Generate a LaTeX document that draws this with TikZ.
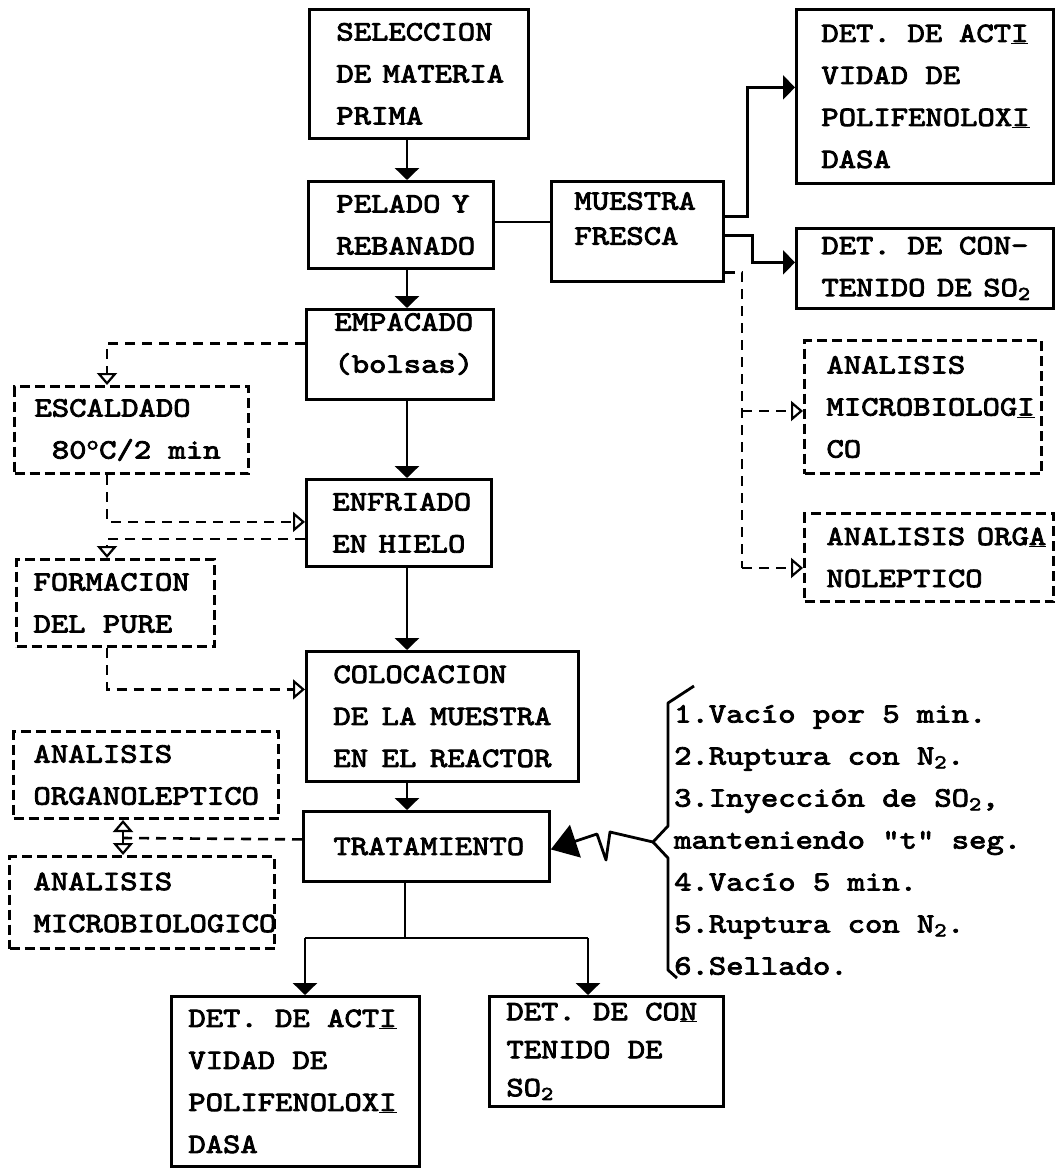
\documentclass[tikz,border=0pt]{standalone}
\usepackage{fontspec}
\newfontfamily\twfont{lmmono10-regular.otf}[FakeStretch=1.18, FakeBold=3]
\usetikzlibrary{arrows.meta}
\newcommand\tyfont{\fontsize{28}{42}\selectfont\twfont}
\newcommand\fixspace{\spaceskip=0pt\xspaceskip=0pt\hyphenpenalty=10000\exhyphenpenalty=10000\hyphenchar\font=-1\relax}
\begin{document}
\begin{tikzpicture}[x=1pt,y=-1pt,
  box/.style={draw, line width=2.8pt, rectangle, anchor=north west, inner xsep=24pt, inner ysep=0pt,
    align=left, font=\tyfont, execute at begin node=\fixspace},
  dbox/.style={box, line width=3pt, dash pattern=on 10pt off 5pt},
  conn/.style={line width=2.8pt},
  flow/.style={conn, -{Triangle[width=24pt,length=12pt]}},
  dconn/.style={line width=2.6pt, dash pattern=on 10pt off 7pt},
  dflow/.style={dconn, -{Triangle[open,width=20pt,length=12pt,line width=2.2pt]}},
  txt/.style={font=\tyfont, align=left, inner sep=0pt}
]
\fill[white] (0,0) rectangle (1063,1168);
\useasboundingbox (0,0) rectangle (1063,1168);

% main column
\node[box, inner xsep=27pt, text width=165pt, minimum height=129pt] (sel) at (308,8) {SELECCION\\DE~MATERIA\\PRIMA};
\node[box, inner xsep=28pt, text width=129pt, minimum height=87pt] (pel) at (307,180) {PELADO~Y\\REBANADO};
\node[box, inner xsep=28pt, text width=131pt, minimum height=90pt, text depth=65pt] (emp) at (305,308) {EMPACADO\\(bolsas)};
\node[box, inner xsep=26pt, text width=133pt, minimum height=87pt] (enf) at (305,478) {ENFRIADO\\EN~HIELO};
\node[box, inner xsep=27pt, text width=218pt, minimum height=130pt] (col) at (305,650) {COLOCACION\\DE~LA~MUESTRA\\EN~EL~REACTOR};
\node[box, inner xsep=30pt, text width=186pt, minimum height=70pt] (trat) at (302,810) {TRATAMIENTO};

% fresh sample branch
\node[box, inner xsep=23pt, text width=126pt, minimum height=100pt, text depth=61pt, font=\fontsize{28}{35}\selectfont\twfont] (mue) at (550,180) {MUESTRA\\FRESCA};
\node[box, inner xsep=25pt, text width=207pt, minimum height=174pt] (acti1) at (795,8) {DET.~DE~ACT\underline{I}\\VIDAD~DE\\POLIFENOLOX\underline{I}\\DASA};
\node[box, inner xsep=25pt, text width=207pt, minimum height=80pt] (con1) at (795,227) {DET.~DE~CON-\\TENIDO~DE~SO\textsubscript{2}};
\node[dbox, inner xsep=22pt, text width=193pt, minimum height=133pt] (mic1) at (803,339) {ANALISIS\\MICROBIOLOG\underline{I}\\CO};
\node[dbox, inner xsep=22pt, text width=205pt, minimum height=88pt] (org1) at (803,512) {ANALISIS~ORG\underline{A}\\NOLEPTICO};

% left dashed column
\node[dbox, inner xsep=20pt, text width=194pt, minimum height=87pt] (esc) at (13,385) {ESCALDADO\\~80\textsuperscript{o}C/2~min};
\node[dbox, inner xsep=17pt, text width=164pt, minimum height=87pt] (form) at (15,558) {FORMACION\\DEL~PURE};
\node[dbox, inner xsep=20pt, text width=225pt, minimum height=87pt] (orgL) at (12,730) {ANALISIS\\ORGANOLEPTICO};
\node[dbox, inner xsep=24pt, text width=217pt, minimum height=92pt] (micL) at (8,855) {ANALISIS\\MICROBIOLOGICO};

% bottom
\node[box, inner xsep=17pt, text width=214pt, minimum height=170pt] (acti2) at (170,995) {DET.~DE~ACT\underline{I}\\VIDAD~DE\\POLIFENOLOX\underline{I}\\DASA};
\node[box, inner xsep=17pt, text width=200pt, minimum height=110pt, font=\fontsize{28}{38}\selectfont\twfont] (con2) at (488,995) {DET.~DE~CO\underline{N}\\TENIDO~DE\\SO\textsubscript{2}};

% list of steps
\node[txt, anchor=west] (lst) at (674,840) {1.Vacío~por~5~min.\\2.Ruptura~con~N\textsubscript{2}.\\3.Inyección~de~SO\textsubscript{2},\\manteniendo~"t"~seg.\\4.Vacío~5~min.\\5.Ruptura~con~N\textsubscript{2}.\\6.Sellado.};

% helper coordinates
\coordinate (cx) at (407,0);
\coordinate (lx) at (107,0);
\coordinate (rm) at (742,411);
\coordinate (rb) at (742,568);
\coordinate (tl) at (123,838);
\coordinate (bj) at (405,938);
\coordinate (bl) at (305,938);
\coordinate (br) at (588,938);

% main flow
\draw[flow] (sel.south -| cx) -- (pel.north -| cx);
\draw[flow] (pel.south -| cx) -- (emp.north -| cx);
\draw[flow] (emp.south -| cx) -- (enf.north -| cx);
\draw[flow] (enf.south -| cx) -- (col.north -| cx);
\draw[flow] (col.south -| cx) -- (trat.north -| cx);

% to fresh sample
\draw[conn] ([yshift=3pt]pel.east) -- ([yshift=3pt]pel.east -| mue.west);
\draw[flow] ([yshift=15pt]mue.east) -- ++(23,0) |- ([yshift=9pt]acti1.west);
\draw[flow] ([yshift=-4pt]mue.east) -- ++(28,0) |- ([yshift=6pt]con1.west);
\draw[dconn] ([yshift=-41pt]mue.east) -| (rb);
\draw[dflow] (rm) -- (rm -| mic1.west);
\draw[dflow] (rb) -- (rb -| org1.west);

% left dashed flow
\draw[dflow] ([yshift=11pt]emp.west) -| (esc.north -| lx);
\draw[dflow] (esc.south -| lx) |- ([yshift=1pt]enf.west);
\draw[dflow] ([yshift=-16pt]enf.west) -| (form.north -| lx);
\draw[dflow] (form.south -| lx) |- ([yshift=27pt]col.west);
\draw[dconn] ([yshift=7pt]trat.west) -- (tl);
\draw[dflow] (tl) -- (tl |- orgL.south);
\draw[dflow] (tl) -- (tl |- micL.north);

% bottom split
\draw[conn] (trat.south -| bj) -- (bj);
\draw[conn] (bl) -- (br);
\draw[flow] (bl) -- (bl |- acti2.north);
\draw[flow] (br) -- (br |- con2.north);

% bracket and lightning arrow
\coordinate (tip) at (653,842);
\draw[conn, line join=round] (694,686) -- (668,703) -- (668,826) -- (tip) -- (668,858) -- (668,970) -- (677,978);
\draw[conn, line join=round, -{Triangle[width=34pt,length=26pt]}] (tip) -- (610,832) -- (606,860) -- (597,834) -- ([yshift=-3pt]trat.east);
\end{tikzpicture}
\end{document}
